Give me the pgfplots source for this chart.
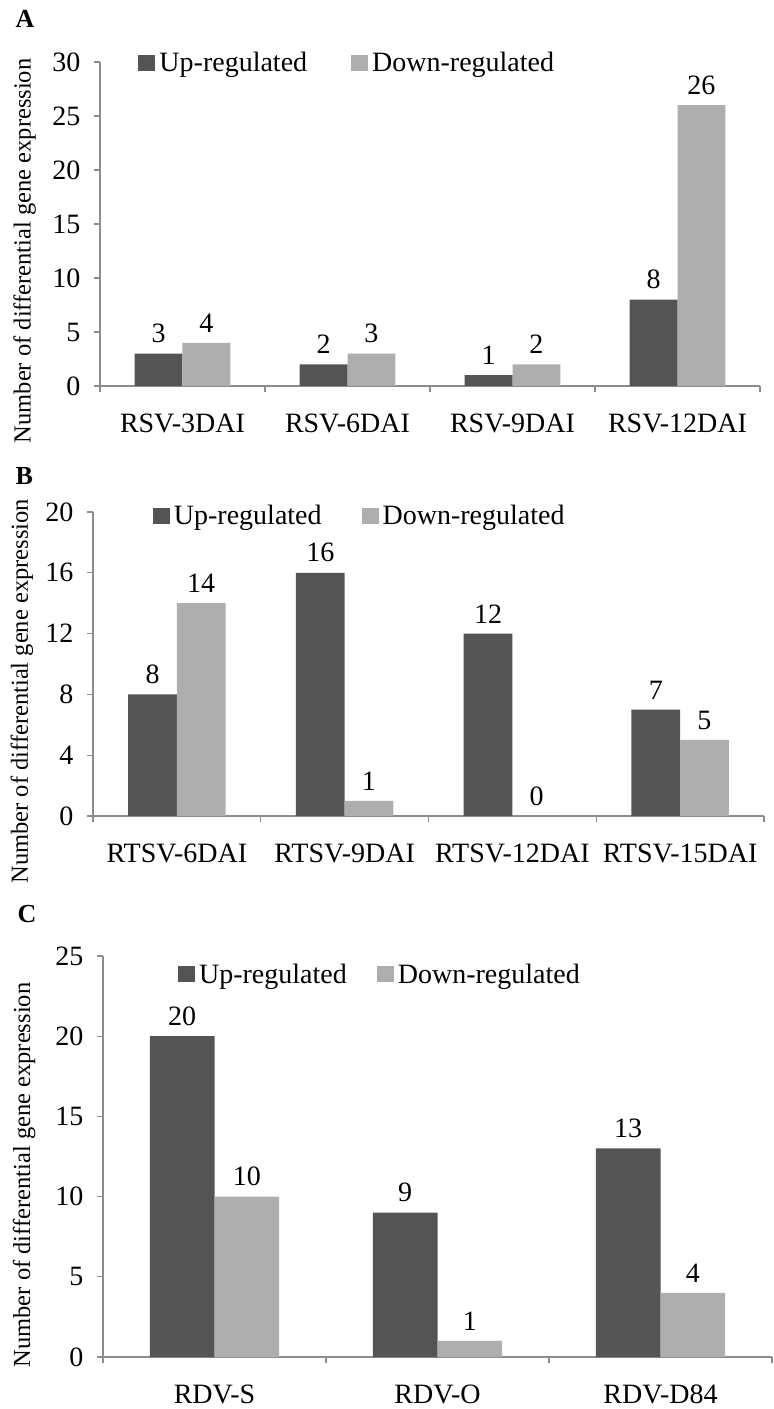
\documentclass[border=0pt]{standalone}
\usepackage{fontspec}
\setmainfont{Liberation Serif}
\usepackage{pgfplots}
\pgfplotsset{compat=1.18}

\definecolor{upbar}{HTML}{545454}
\definecolor{dnbar}{HTML}{AEAEAE}
\definecolor{axgray}{HTML}{8C8C8C}

\newcommand\fs{\fontsize{28}{32}\selectfont}
\newcommand\fl{\fontsize{24.5}{28}\selectfont}
\newcommand\fp{\fontsize{26}{30}\selectfont\bfseries}

\pgfplotsset{
  panel/.style={
    scale only axis, ybar=0pt, bar width=0.29, ymin=0,
    enlargelimits=false, clip=false,
    /pgf/number format/assume math mode=true,
    axis x line*=bottom, axis y line*=left,
    axis line style={draw=axgray, line width=1.2pt, -},
    tick style={draw=axgray, line width=1.2pt},
    tick align=outside, major tick length=6pt,
    x tick label as interval,
    ticklabel style={font=\fs},
    yticklabel style={xshift=-10pt},
    xticklabel style={yshift=-18pt},
    nodes near coords,
    every node near coord/.append style={font=\fs, text=black, yshift=7pt},
    ylabel={Number of differential gene expression},
    legend columns=-1,
    legend style={draw=none, fill=none, inner sep=0pt, anchor=west, font=\fs,
      nodes={inner sep=2pt}},
    legend image code/.code={%
      \path (0pt,0pt) -- (19pt,0pt);
      \fill[##1] (0pt,-8pt) rectangle (17pt,8pt);},
  },
  up/.style={draw=none, fill=upbar},
  dn/.style={draw=none, fill=dnbar},
}

\begin{document}
\begin{tikzpicture}
\useasboundingbox (0,0) rectangle (774pt,1409pt);

% panel A
\node[anchor=base west, font=\fp] at (12pt,1381pt) {A};
\begin{axis}[panel, at={(100pt,1023pt)}, anchor=south west,
  width=660pt, height=324pt,
  xmin=-0.5, xmax=3.5, ymax=30, ytick={0,5,...,30},
  xtick={-0.5,0.5,1.5,2.5,3.5},
  xticklabels={RSV-3DAI,RSV-6DAI,RSV-9DAI,RSV-12DAI},
  ylabel style={at={(axis description cs:-0.114,0.417)}, anchor=center, font=\fl},
  legend style={at={(0.058,0.997)},
    /tikz/every even column/.append style={column sep=42pt}},
]
\addplot[up] coordinates {(0,3) (1,2) (2,1) (3,8)};
\addplot[dn] coordinates {(0,4) (1,3) (2,2) (3,26)};
\legend{Up-regulated,Down-regulated}
\end{axis}

% panel B
\node[anchor=base west, font=\fp] at (12pt,924pt) {B};
\begin{axis}[panel, at={(93pt,593pt)}, anchor=south west,
  width=671pt, height=304pt,
  xmin=-0.5, xmax=3.5, ymax=20, ytick={0,4,...,20},
  xtick={-0.5,0.5,1.5,2.5,3.5},
  xticklabels={RTSV-6DAI,RTSV-9DAI,RTSV-12DAI,RTSV-15DAI},
  ylabel style={at={(axis description cs:-0.106,0.41)}, anchor=center, font=\fl},
  legend style={at={(0.089,0.987)},
    /tikz/every even column/.append style={column sep=38pt}},
]
\addplot[up] coordinates {(0,8) (1,16) (2,12) (3,7)};
\addplot[dn] coordinates {(0,14) (1,1) (2,0) (3,5)};
\legend{Up-regulated,Down-regulated}
\end{axis}

% panel C
\node[anchor=base west, font=\fp] at (14pt,486pt) {C};
\begin{axis}[panel, at={(103pt,52pt)}, anchor=south west,
  width=669pt, height=401pt,
  xmin=-0.5, xmax=2.5, ymax=25, ytick={0,5,...,25},
  xtick={-0.5,0.5,1.5,2.5},
  xticklabels={RDV-S,RDV-O,RDV-D84},
  ylabel style={at={(axis description cs:-0.118,0.454)}, anchor=center, font=\fl},
  legend style={at={(0.112,0.955)},
    /tikz/every even column/.append style={column sep=28pt}},
]
\addplot[up] coordinates {(0,20) (1,9) (2,13)};
\addplot[dn] coordinates {(0,10) (1,1) (2,4)};
\legend{Up-regulated,Down-regulated}
\end{axis}
\end{tikzpicture}
\end{document}
